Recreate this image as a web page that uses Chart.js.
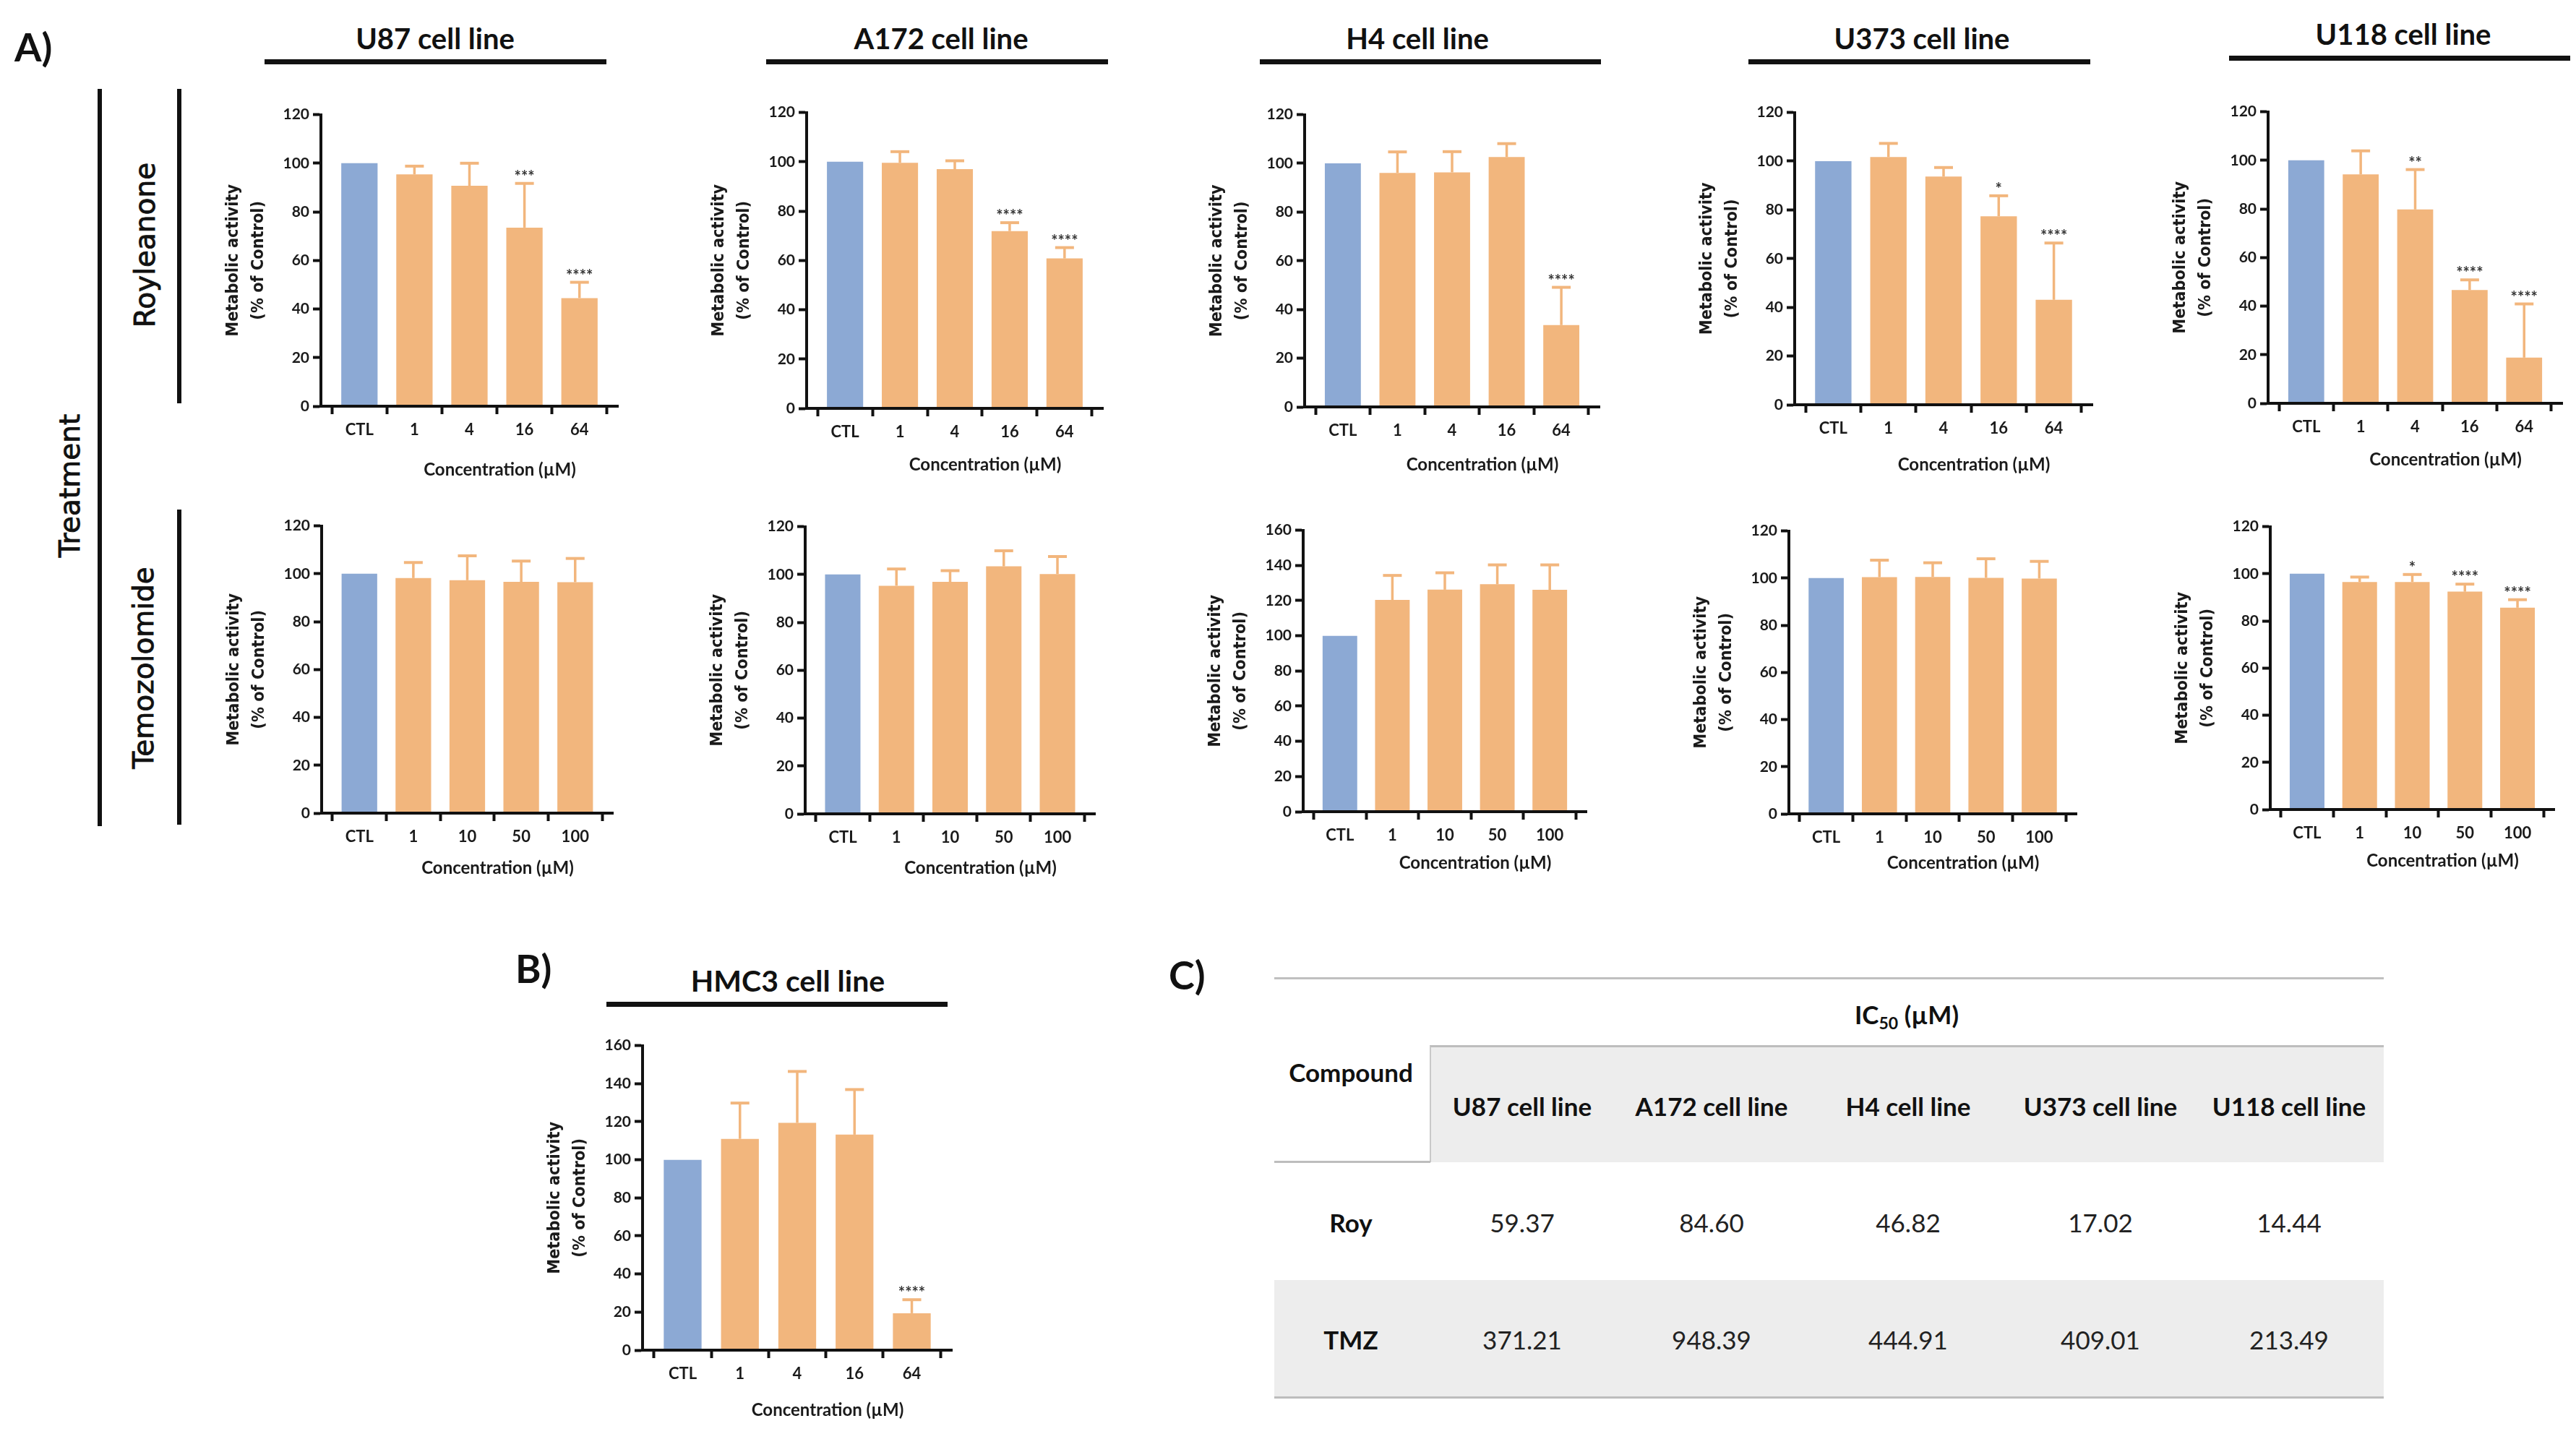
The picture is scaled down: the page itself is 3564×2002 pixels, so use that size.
<!DOCTYPE html>
<html><head><meta charset="utf-8">
<script src="https://cdn.jsdelivr.net/npm/chart.js@4.4.1/dist/chart.umd.min.js"></script>
<style>
html,body{margin:0;padding:0;background:#fff;}
#fig{position:relative;width:3564px;height:2002px;overflow:hidden;background:#fff;font-family:Lato,"Liberation Sans",sans-serif;color:#111;}
#fig div{position:absolute;white-space:nowrap;}
canvas{position:absolute;}
.ctr{transform:translate(-50%,-50%);line-height:1;}
.rot{transform:translate(-50%,-50%) rotate(-90deg);line-height:1;font-family:"DejaVu Sans",sans-serif;font-size:39px;-webkit-text-stroke:0.9px #111;}
.ttl{font-weight:700;font-size:40px;}
.hline{background:#111;height:7px;}
.vline{background:#111;width:6px;}
.panel{font-weight:700;font-size:54px;line-height:1;transform:translateY(-50%);}
.tb{font-size:35px;}
</style></head><body><div id="fig"></div>
<script>
// ---------------- data ----------------
const royleanoneDoses = ["CTL","1","4","16","64"];
const temozolomideDoses = ["CTL","1","10","50","100"];

const u87RoyMean  = [100, 95.4, 90.7, 73.5, 44.5];
const u87RoySD    = [0, 3.4, 9.3, 18.2, 6.5];
const u87RoySig   = ["", "", "", "***", "****"];

const a172RoyMean = [100, 99.6, 97.0, 71.9, 60.8];
const a172RoySD   = [0, 4.5, 3.4, 3.4, 4.4];
const a172RoySig  = ["", "", "", "****", "****"];

const h4RoyMean   = [100, 96.1, 96.3, 102.6, 33.6];
const h4RoySD     = [0, 8.6, 8.5, 5.5, 15.5];
const h4RoySig    = ["", "", "", "", "****"];

const u373RoyMean = [100, 101.7, 93.7, 77.4, 43.1];
const u373RoySD   = [0, 5.6, 3.7, 8.4, 23.3];
const u373RoySig  = ["", "", "", "*", "****"];

const u118RoyMean = [100, 94.2, 79.8, 46.6, 18.8];
const u118RoySD   = [0, 9.7, 16.4, 4.2, 22.1];
const u118RoySig  = ["", "", "**", "****", "****"];

const u87TmzMean  = [100, 98.2, 97.3, 96.6, 96.5];
const u87TmzSD    = [0, 6.5, 10.2, 8.7, 9.9];
const a172TmzMean = [100, 95.3, 96.9, 103.4, 100.2];
const a172TmzSD   = [0, 7.0, 4.7, 6.5, 7.3];
const h4TmzMean   = [100, 120.4, 126.2, 129.3, 126.1];
const h4TmzSD     = [0, 13.9, 9.6, 11.0, 14.2];
const u373TmzMean = [100, 100.4, 100.5, 100.1, 99.8];
const u373TmzSD   = [0, 7.2, 6.0, 8.1, 7.3];
const u118TmzMean = [100, 96.5, 96.5, 92.4, 85.6];
const u118TmzSD   = [0, 2.1, 3.2, 3.2, 3.4];
const u118TmzSig  = ["", "", "*", "****", "****"];
const noSig       = ["", "", "", "", ""];

const hmc3RoyMean = [100, 111.0, 119.4, 113.2, 19.4];
const hmc3RoySD   = [0, 18.8, 27.0, 23.7, 7.1];
const hmc3RoySig  = ["", "", "", "", "****"];

const yTitleLines = ["Metabolic activity", "(% of Control)"];
const xTitle = "Concentration (\u00b5M)";

const cellLines = ["U87 cell line","A172 cell line","H4 cell line","U373 cell line","U118 cell line"];
const compounds = ["Roy","TMZ"];
const ic50Roy = ["59.37","84.60","46.82","17.02","14.44"];
const ic50Tmz = ["371.21","948.39","444.91","409.01","213.49"];

// ---------------- layout ----------------
const BLUE = '#8CA9D4', ORANGE = '#F2B67D';
const FONT = 'Lato, "Liberation Sans", sans-serif';
const fig = document.getElementById('fig');

const panels = [
 {cats:royleanoneDoses, mean:u87RoyMean,  sd:u87RoySD,  sig:u87RoySig,  ymax:120, ax:444,  top:157, bot:562,  xe:855,  xt:88},
 {cats:royleanoneDoses, mean:a172RoyMean, sd:a172RoySD, sig:a172RoySig, ymax:120, ax:1116, top:154, bot:565,  xe:1526, xt:78},
 {cats:royleanoneDoses, mean:h4RoyMean,   sd:h4RoySD,   sig:h4RoySig,   ymax:120, ax:1805, top:157, bot:563,  xe:2213, xt:80},
 {cats:royleanoneDoses, mean:u373RoyMean, sd:u373RoySD, sig:u373RoySig, ymax:120, ax:2483, top:154, bot:560,  xe:2895, xt:83},
 {cats:royleanoneDoses, mean:u118RoyMean, sd:u118RoySD, sig:u118RoySig, ymax:120, ax:3138, top:153, bot:558,  xe:3545, xt:78},
 {cats:temozolomideDoses, mean:u87TmzMean,  sd:u87TmzSD,  sig:noSig, ymax:120, ax:445,  top:726, bot:1125, xe:848,  xt:76},
 {cats:temozolomideDoses, mean:a172TmzMean, sd:a172TmzSD, sig:noSig, ymax:120, ax:1114, top:727, bot:1126, xe:1515, xt:75},
 {cats:temozolomideDoses, mean:h4TmzMean,   sd:h4TmzSD,   sig:noSig, ymax:160, ax:1803, top:732, bot:1123, xe:2195, xt:71},
 {cats:temozolomideDoses, mean:u373TmzMean, sd:u373TmzSD, sig:noSig, ymax:120, ax:2475, top:733, bot:1126, xe:2873, xt:68},
 {cats:temozolomideDoses, mean:u118TmzMean, sd:u118TmzSD, sig:u118TmzSig, ymax:120, ax:3141, top:727, bot:1120, xe:3534, xt:71},
 {cats:royleanoneDoses, mean:hmc3RoyMean, sd:hmc3RoySD, sig:hmc3RoySig, ymax:160, ax:889, top:1445, bot:1868, xe:1317, xt:83}
];

function el(cls, html, styles){
  const d = document.createElement('div');
  if (cls) d.className = cls;
  d.innerHTML = html;
  Object.assign(d.style, styles);
  fig.appendChild(d);
  return d;
}

// titles
const titlePos = [
 {cx:602, cy:53, x1:366, x2:839, ly:85},
 {cx:1302, cy:53, x1:1060, x2:1533, ly:85},
 {cx:1961, cy:53, x1:1743, x2:2215, ly:85},
 {cx:2659, cy:53, x1:2419, x2:2892, ly:85},
 {cx:3325, cy:47, x1:3084, x2:3556, ly:80}
];
titlePos.forEach((t,i)=>{
  el('ctr ttl', cellLines[i], {left:t.cx+'px', top:t.cy+'px'});
  el('hline', '', {left:t.x1+'px', top:(t.ly-3)+'px', width:(t.x2-t.x1)+'px'});
});
el('ctr ttl', 'HMC3 cell line', {left:'1090px', top:'1356px', fontSize:'41px'});
el('hline', '', {left:'839px', top:'1386px', width:'472px'});

el('panel', 'A)', {left:'20px', top:'65px'});
el('panel', 'B)', {left:'713px', top:'1340px'});
el('panel', 'C)', {left:'1617px', top:'1349px'});

// treatment brackets
el('vline', '', {left:'135px', top:'123px', height:'1020px'});
el('vline', '', {left:'245px', top:'123px', height:'435px'});
el('vline', '', {left:'245px', top:'705px', height:'436px'});
el('rot', 'Treatment', {left:'96px', top:'672px'});
el('rot', 'Royleanone', {left:'200px', top:'339px'});
el('rot', 'Temozolomide', {left:'198px', top:'924px'});

// ---------------- table ----------------
const colCenters = [2106, 2368, 2640, 2906, 3167];
el('', '', {left:'1763px', top:'1352px', width:'1535px', height:'3px', background:'#c0c0c0'});
el('ctr tb', '<b>IC<sub style="font-size:23px;vertical-align:-7px">50</sub> (\u00b5M)</b>', {left:'2638px', top:'1406px'});
el('', '', {left:'1978px', top:'1446px', width:'1320px', height:'162px', background:'#ededed', borderTop:'3px solid #bdbdbd', borderLeft:'2px solid #c9c9c9', boxSizing:'border-box'});
el('', '', {left:'1763px', top:'1606px', width:'216px', height:'3px', background:'#bdbdbd'});
el('ctr tb', '<b>Compound</b>', {left:'1869px', top:'1483px'});
cellLines.forEach((c,i)=> el('ctr tb', '<b>'+c+'</b>', {left:colCenters[i]+'px', top:'1530px'}));
el('', '', {left:'1763px', top:'1771px', width:'1535px', height:'162px', background:'#ededed'});
el('', '', {left:'1763px', top:'1932px', width:'1535px', height:'3px', background:'#bdbdbd'});
const rowY = [1691, 1853];
[ic50Roy, ic50Tmz].forEach((vals, r)=>{
  el('ctr tb', '<b>'+compounds[r]+'</b>', {left:'1869px', top:rowY[r]+'px'});
  vals.forEach((v,i)=> el('ctr tb', v, {left:colCenters[i]+'px', top:rowY[r]+'px', color:'#222'}));
});

// ---------------- charts ----------------
function decor(p){
  return {
    id:'decor',
    afterDatasetsDraw(chart){
      const ctx = chart.ctx, ys = chart.scales.y, meta = chart.getDatasetMeta(0);
      ctx.save();
      p.mean.forEach((m,i)=>{
        const sd = p.sd[i];
        const x = meta.data[i].x;
        if (sd) {
          const yb = ys.getPixelForValue(m), yt = ys.getPixelForValue(m + sd);
          ctx.strokeStyle = ORANGE; ctx.lineCap = 'butt';
          ctx.lineWidth = 3.5; ctx.beginPath(); ctx.moveTo(x, yb); ctx.lineTo(x, yt); ctx.stroke();
          ctx.lineWidth = 4; ctx.beginPath(); ctx.moveTo(x - 13, yt); ctx.lineTo(x + 13, yt); ctx.stroke();
          if (p.sig[i]) {
            ctx.fillStyle = '#333'; ctx.font = 'bold 22px ' + FONT;
            ctx.textAlign = 'center'; ctx.textBaseline = 'middle';
            ctx.fillText(p.sig[i], x, yt - 9);
          }
        }
      });
      ctx.restore();
    },
    afterDraw(chart){
      const ctx = chart.ctx, a = chart.chartArea;
      ctx.save();
      ctx.fillStyle = '#1a1a1a';
      ctx.textAlign = 'center'; ctx.textBaseline = 'middle';
      ctx.font = 'bold 24px ' + FONT;
      ctx.fillText(xTitle, (a.left + a.right) / 2 + 42, a.bottom + p.xt);
      ctx.translate(a.left, (a.top + a.bottom) / 2);
      ctx.rotate(-Math.PI / 2);
      ctx.scale(0.91, 1);
      ctx.font = 'bold 23px "DejaVu Sans"';
      ctx.fillText(yTitleLines[0], 0, -121);
      ctx.fillText(yTitleLines[1], 0, -86);
      ctx.restore();
    }
  };
}

function makeChart(p){
  const W = 170, PT = 16, PR = 24, H = 120;
  const cw = W + (p.xe - p.ax) + PR;
  const ch = PT + (p.bot - p.top) + H;
  const cv = document.createElement('canvas');
  cv.width = cw; cv.height = ch;
  Object.assign(cv.style, {left:(p.ax - W)+'px', top:(p.top - PT)+'px', width:cw+'px', height:ch+'px'});
  fig.appendChild(cv);
  const axisCommon = {
    grid:{display:true, drawOnChartArea:false, drawTicks:true, tickLength:11, tickWidth:4, tickColor:'#111'},
    border:{display:true, color:'#111', width:4, z:1}
  };
  new Chart(cv, {
    type:'bar',
    data:{datasets:[{
      data: p.mean.map((v,i)=>({x:i, y:v})),
      backgroundColor: p.mean.map((v,i)=> i === 0 ? BLUE : ORANGE),
      borderWidth:0, categoryPercentage:1, barPercentage:0.66
    }]},
    options:{
      responsive:false, animation:false, devicePixelRatio:1,
      layout:{padding:{top:PT, right:PR, left:0, bottom:0}},
      plugins:{legend:{display:false}, tooltip:{enabled:false}, title:{display:false}},
      scales:{
        x:Object.assign({
          type:'linear', min:-0.7, max:4.7, offset:false,
          afterBuildTicks:s=>{ s.ticks = p.cats.map((c,i)=>({value:i})); },
          afterFit:s=>{ s.height = H; },
          ticks:{callback:v=>p.cats[v], font:{family:FONT, size:22, weight:'bold'}, color:'#1a1a1a', padding:9, autoSkip:false, maxRotation:0}
        }, axisCommon),
        y:Object.assign({
          min:0, max:p.ymax,
          afterFit:s=>{ s.width = W; },
          ticks:{stepSize:20, callback:v=>String(v), font:{family:FONT, size:21, weight:'bold'}, color:'#1a1a1a', padding:5}
        }, axisCommon)
      }
    },
    plugins:[decor(p)]
  });
}

Promise.all([
  document.fonts.load('bold 22px Lato'),
  document.fonts.load('22px Lato'),
  document.fonts.load('bold 21px "DejaVu Sans"'),
  document.fonts.load('21px "DejaVu Sans"')
]).catch(()=>{}).then(()=> panels.forEach(makeChart));
</script>
</body></html>
